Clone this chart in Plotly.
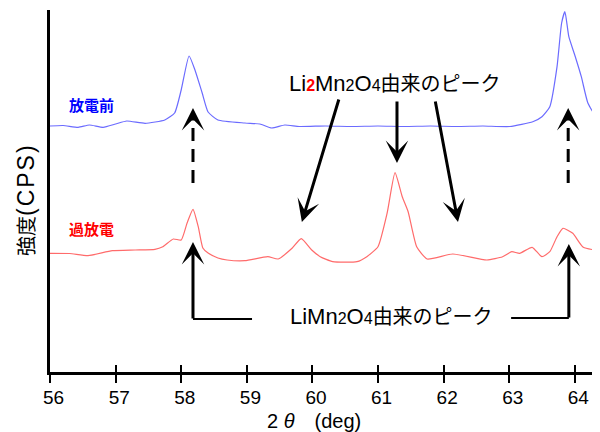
import plotly.graph_objects as go

# ---- data ----
blue_x = [56.0, 56.2, 56.43, 56.6, 56.81, 57.0, 57.17, 57.45, 57.75, 57.9, 58.0, 58.12, 58.21, 58.32,
          58.41, 58.56, 58.97, 59.2, 59.38, 59.58, 59.8, 60.2, 60.6, 61.0, 61.4, 61.8, 62.2, 62.6,
          63.01, 63.36, 63.5, 63.62, 63.73, 63.8, 63.85, 63.91, 64.0, 64.1, 64.2, 64.34, 64.385]
blue_y = [246, 246.5, 244.7, 247, 244.7, 248, 251, 248.7, 252, 259, 282, 316, 302, 279,
          260, 252, 249, 248, 244, 247, 245.5, 246, 245.5, 246, 245.5, 246, 245.5, 246,
          245.5, 250.3, 255.3, 265.3, 305.3, 349, 360.3, 335.3, 317, 295.3, 269, 253.7, 252]

red_x = [56.0, 56.3, 56.58, 56.95, 57.3, 57.6, 57.72, 57.88, 58.0, 58.09, 58.18, 58.26, 58.33, 58.41,
         58.56, 58.7, 58.97, 59.32, 59.48, 59.69, 59.83, 59.99, 60.12, 60.31, 60.68, 60.83, 61.0,
         61.14, 61.26, 61.37, 61.46, 61.59, 61.75, 62.14, 62.66, 62.9, 63.04, 63.16, 63.35, 63.5,
         63.62, 63.73, 63.82, 63.97, 64.13, 64.385]
red_y = [118.7, 118.5, 116.3, 121.3, 122, 122.7, 125.3, 133, 132, 149, 162.7, 145.3, 124, 119,
         114, 112, 111.3, 115.3, 113, 123.7, 133.3, 122, 115.3, 110.3, 110.3, 115.3, 125.3,
         159, 199.3, 175.3, 160.3, 125.3, 113, 118, 112, 115.3, 120.3, 118.7, 124.7, 115.3,
         120.3, 135.3, 143.7, 138.7, 124.7, 121.3]

x_ticks = [56, 57, 58, 59, 60, 61, 62, 63, 64]
series_names = ["放電前", "過放電"]

X_RANGE = [56, 64.385]
LABEL_SHIFT = 0.055  # tick labels in the reference sit ~3-4 px right of their ticks
X_RANGE_LABELS = [X_RANGE[0] - LABEL_SHIFT, X_RANGE[1] - LABEL_SHIFT]
Y_RANGE = [0, 362]
FONT = "Arial, Liberation Sans, Noto Sans CJK JP, sans-serif"

fig = go.Figure()
fig.add_trace(go.Scatter(x=blue_x, y=blue_y, mode="lines", name=series_names[0],
                         line=dict(color="#6b6bff", width=1.2, shape="spline", smoothing=0.5),
                         showlegend=False))
fig.add_trace(go.Scatter(x=red_x, y=red_y, mode="lines", name=series_names[1],
                         line=dict(color="#ff6b6b", width=1.2, shape="spline", smoothing=0.5),
                         showlegend=False))
# overlay axes: inner halves of the crossing ticks, and the tick labels
fig.add_trace(go.Scatter(x=[None], y=[None], xaxis="x2", showlegend=False))
fig.add_trace(go.Scatter(x=[None], y=[None], xaxis="x3", showlegend=False))

annotations = []
shapes = []

# series labels
annotations.append(dict(x=56.26, y=267, xref="x", yref="y", text="<b>放電前</b>", showarrow=False,
                        xanchor="left", yanchor="middle", font=dict(size=15, color="#0000ff", family=FONT)))
annotations.append(dict(x=56.26, y=143, xref="x", yref="y", text="<b>過放電</b>", showarrow=False,
                        xanchor="left", yanchor="middle", font=dict(size=15, color="#ff0000", family=FONT)))

# peak labels
SUB = "<span style='font-size:16px'>{}</span>"
JP = "<span style='font-size:20px'>由来のピーク</span>"
annotations.append(dict(x=61.252, y=289, xref="x", yref="y",
                        text="Li<span style='font-size:16px;color:#ff0000'><b>2</b></span>Mn" + SUB.format("2")
                             + "O" + SUB.format("4") + JP,
                        showarrow=False, xanchor="center", yanchor="middle",
                        font=dict(size=22, color="#000000", family=FONT)))
annotations.append(dict(x=61.207, y=56, xref="x", yref="y",
                        text="LiMn" + SUB.format("2") + "O" + SUB.format("4") + JP,
                        showarrow=False, xanchor="center", yanchor="middle",
                        font=dict(size=22, color="#000000", family=FONT)))

arrow_common = dict(xref="x", yref="y", axref="x", ayref="y", text="", showarrow=True,
                    arrowhead=3, arrowsize=1.25, arrowwidth=3, arrowcolor="#000000")

# Li2Mn2O4 arrows
for tail, tip in [((60.41, 274), (59.84, 150)), ((61.29, 272), (61.29, 209)), ((61.87, 272), (62.22, 150))]:
    annotations.append(dict(x=tip[0], y=tip[1], ax=tail[0], ay=tail[1], **arrow_common))

# dashed arrows
for xd in [58.18, 63.90]:
    shapes.append(dict(type="line", xref="x", yref="y", x0=xd, x1=xd, y0=189, y1=252,
                       line=dict(color="#000000", width=3, dash="13px,8px")))
    annotations.append(dict(x=xd, y=264, ax=xd, ay=250, **arrow_common))

# L-shaped LiMn2O4 arrows
for (xh0, xv, yh, ytip) in [(59.08, 58.18, 53, 130), (63.03, 63.91, 54, 128)]:
    shapes.append(dict(type="line", xref="x", yref="y", x0=xh0, x1=xv, y0=yh, y1=yh,
                       line=dict(color="#000000", width=2)))
    annotations.append(dict(x=xv, y=ytip, ax=xv, ay=yh - 1, **arrow_common))

# axis titles
annotations.append(dict(x=-24 / 550, y=(372 - 200) / 362, xref="paper", yref="paper",
                        text="強度<span style='font-size:23px;letter-spacing:2px'>(CPS)</span>",
                        textangle=-90, showarrow=False, xanchor="center", yanchor="middle",
                        font=dict(size=20, color="#000000", family=FONT)))
annotations.append(dict(x=(314 - 50) / 550, y=(372 - 421) / 362, xref="paper", yref="paper",
                        text="2 <i>θ</i>　(deg)", showarrow=False, xanchor="center", yanchor="middle",
                        font=dict(size=20, color="#000000", family=FONT)))

# the page body has an 8px margin, so the figure is sized/offset to compensate
fig.update_layout(
    width=592, height=424,
    margin=dict(l=42, r=0, t=2, b=60, autoexpand=False),
    paper_bgcolor="white", plot_bgcolor="white",
    font=dict(family=FONT, color="#000000"),
    xaxis=dict(range=X_RANGE, tickvals=x_ticks, showticklabels=False,
               showgrid=False, zeroline=False, showline=True, linecolor="#000000", linewidth=2.5,
               ticks="outside", ticklen=8, tickwidth=1.5, tickcolor="#000000"),
    xaxis2=dict(range=X_RANGE, tickvals=x_ticks, overlaying="x", anchor="y", side="bottom",
                showgrid=False, zeroline=False, showline=False, showticklabels=False,
                ticks="inside", ticklen=7, tickwidth=1.5, tickcolor="#000000"),
    xaxis3=dict(range=X_RANGE_LABELS, tickvals=x_ticks, ticktext=[str(t) for t in x_ticks],
                overlaying="x", anchor="y", side="bottom",
                showgrid=False, zeroline=False, showline=False,
                ticks="outside", ticklen=8, tickwidth=1, tickcolor="rgba(0,0,0,0)",
                tickfont=dict(size=19, color="#000000", family=FONT), ticklabelstandoff=0),
    yaxis=dict(range=Y_RANGE, showgrid=False, zeroline=False, showline=True, linecolor="#000000",
               linewidth=2.5, showticklabels=False, ticks=""),
    annotations=annotations,
    shapes=shapes,
)

fig.write_html("out.html")
